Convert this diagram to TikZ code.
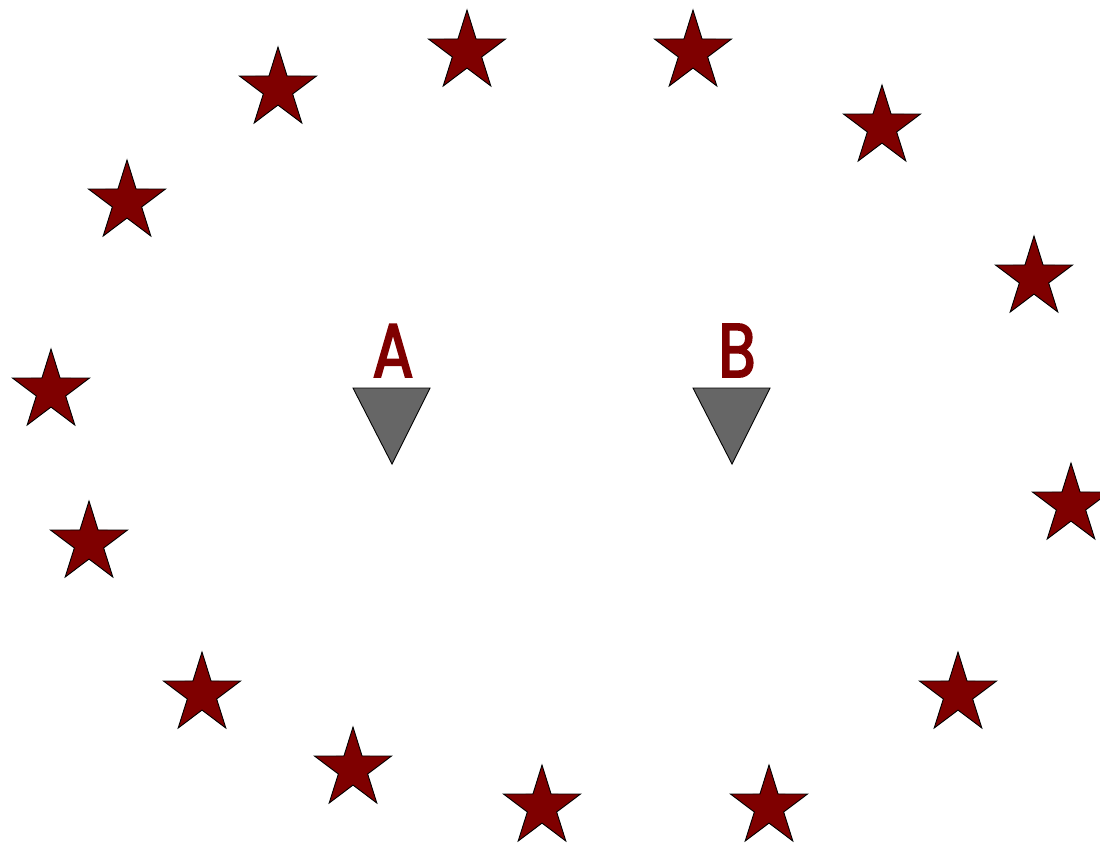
\documentclass[tikz,border=0pt]{standalone}
\usepackage{fontspec}
\newfontfamily\labfont{Poppins}[FakeBold=2.5,FakeStretch=0.8]
\definecolor{maroonx}{HTML}{7F0000}
\definecolor{greyx}{HTML}{666666}
\begin{document}
\begin{tikzpicture}[x=1pt,y=-1pt,
  starshape/.style={fill=maroonx,draw=black,line width=0.9pt,line join=miter},
  trishape/.style={fill=greyx,draw=black,line width=0.9pt,line join=miter},
  lab/.style={text=maroonx,font=\labfont\fontsize{76}{76}\selectfont,inner sep=0pt,anchor=base}]
\useasboundingbox (0,0) rectangle (1100,844);
\foreach \cx/\cy in {467/52,693/52,278/89,882/127,127/202,1034/278,51/391,1071/505,89/543,202/694,958/694,353/769,542/807,769/807}{
  \draw[starshape] ({\cx},{\cy-42})
    \foreach \k in {0,...,4}{
      -- ({\cx+15.4*cos(126+72*\k)},{\cy-16.1*sin(126+72*\k)})
      -- ({\cx+40.5*cos(162+72*\k)},{\cy-42*sin(162+72*\k)})
    } -- cycle;
}
% triangles
\coordinate (ta1) at (353,388);
\coordinate (ta2) at (430,388);
\coordinate (ta3) at (392,464);
\coordinate (tb1) at (693,388);
\coordinate (tb2) at (770,388);
\coordinate (tb3) at (732,464);
\draw[trishape] (ta1) -- (ta2) -- (ta3) -- cycle;
\draw[trishape] (tb1) -- (tb2) -- (tb3) -- cycle;
% labels
\node[lab] (la) at (393,377) {A};
\node[lab] (lb) at (737,377) {B};
\end{tikzpicture}
\end{document}
